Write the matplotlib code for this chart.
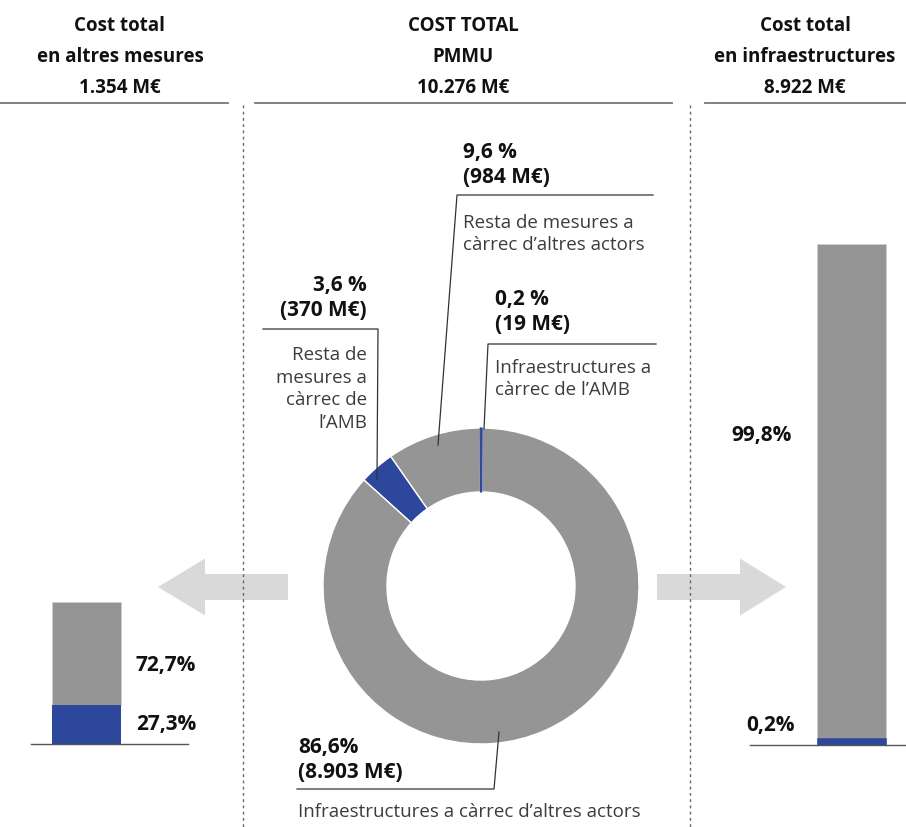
import matplotlib
matplotlib.use("Agg")
import matplotlib.pyplot as plt
from matplotlib.patches import FancyArrow

plt.rcParams['font.family'] = ['Open Sans', 'DejaVu Sans']

GRIS = '#959595'
BLAU = '#2c479b'
GRIS_FLETXA = '#d9d9d9'
LINIA = '#555555'

# dades del pastís (ordre antihorari des de dalt)
segments = ['Infraestructures AMB', 'Resta mesures altres actors', 'Resta mesures AMB', 'Infraestructures altres actors']
percentatges = [0.2, 9.6, 3.6, 86.6]
colors_pastis = [BLAU, GRIS, BLAU, GRIS]

# barres laterals
altres_mesures = [27.3, 72.7]     # AMB, altres actors
infraestructures = [0.2, 99.8]    # AMB, altres actors

capcaleres = [
    ("Cost total\nen altres mesures\n1.354 M€", 120),
    ("COST TOTAL\nPMMU\n10.276 M€", 463),
    ("Cost total\nen infraestructures\n8.922 M€", 805),
]

W, H = 906, 828
fig = plt.figure(figsize=(W / 100, H / 100), dpi=100)


def eixos_px(x0, y0, x1, y1):
    # crea uns eixos a partir de coordenades en píxels (origen a dalt a l'esquerra)
    return fig.add_axes([x0 / W, 1 - y1 / H, (x1 - x0) / W, (y1 - y0) / H])


# --- pastís central ---
ax_p = eixos_px(323, 429, 639, 745)
wedges, _ = ax_p.pie(percentatges, colors=colors_pastis, startangle=89.6, counterclock=True,
                     radius=1, wedgeprops=dict(width=0.405, edgecolor='white', linewidth=1.0))
# el segment del 0,2 % és massa estret: se li dona un contorn del mateix blau
wedges[0].set_edgecolor(BLAU)
wedges[0].set_linewidth(0.9)
wedges[0].set_zorder(3)
ax_p.set_xlim(-1, 1)
ax_p.set_ylim(-1, 1)
ax_p.set_aspect('auto')
ax_p.axis('off')


# --- barres ---
def barra(x0, y0, x1, y1, bx0, bx1, valors, gruix_min=0):
    ax = eixos_px(x0, y0, x1, y1)
    amp = bx1 - bx0
    centre = (bx0 + bx1) / 2 - x0
    ax.set_xlim(-centre / amp, (x1 - x0 - centre) / amp)
    # amb un contorn gruixut el valor petit continua sent visible
    gruix_px = gruix_min * 100 / 72
    ax.bar(0, valors[0], width=1 - gruix_px / amp, color=BLAU, edgecolor=BLAU,
           linewidth=gruix_min, joinstyle='miter', zorder=3)
    ax.bar(0, valors[1], bottom=valors[0], width=1, color=GRIS, edgecolor='#d0d0d0',
           linewidth=0.4, zorder=2)
    ax.set_ylim(0, sum(valors))
    for s in ['top', 'left', 'right']:
        ax.spines[s].set_visible(False)
    ax.spines['bottom'].set_color(LINIA)
    ax.spines['bottom'].set_linewidth(1)
    ax.spines['bottom'].set_zorder(4)
    ax.set_xticks([])
    ax.set_yticks([])
    ax.patch.set_alpha(0)
    return ax


barra(31, 603, 188, 745, 52, 121, altres_mesures)
barra(750, 245, 906, 746, 817, 886, infraestructures, gruix_min=9)

# --- capa de textos, línies i fletxes ---
ov = fig.add_axes([0, 0, 1, 1], zorder=5)
ov.set_xlim(0, W)
ov.set_ylim(H, 0)
ov.axis('off')
ov.patch.set_alpha(0)

for txt, x in capcaleres:
    ov.text(x, 57, txt, ha='center', va='center', fontsize=13.5, fontweight='bold',
            linespacing=1.75, color='#111111')

for x0, x1 in [(0, 228), (255, 672), (705, 906)]:
    ov.plot([x0, x1], [104, 104], color='#777777', lw=1.3)

for x in [243, 690]:
    ov.plot([x, x], [106, 828], color='#666666', lw=1, ls=(0, (2, 2.5)))

# fletxes
ov.add_patch(FancyArrow(288, 588, -130, 0, width=26, head_width=57, head_length=47,
                        length_includes_head=True, color=GRIS_FLETXA, lw=0))
ov.add_patch(FancyArrow(657, 588, 129, 0, width=26, head_width=57, head_length=46,
                        length_includes_head=True, color=GRIS_FLETXA, lw=0))

neg = dict(fontsize=15, fontweight='bold', color='#111111', linespacing=1.2)
fi = dict(fontsize=13.5, fontweight='normal', color='#3c3c3c', linespacing=1.35)
ll = dict(color='#333333', lw=0.9)

# 9,6 %
ov.text(463, 165, "9,6 %\n(984 M€)", ha='left', va='center', **neg)
ov.plot([653, 457, 438], [196, 196, 446], **ll)
ov.text(463, 234, "Resta de mesures a\ncàrrec d’altres actors", ha='left', va='center', **fi)

# 3,6 %
ov.text(367, 298, "3,6 %\n(370 M€)", ha='right', va='center', **neg)
ov.plot([263, 378, 377], [330, 330, 480], **ll)
ov.text(367, 389, "Resta de\nmesures a\ncàrrec de\nl’AMB", ha='right', va='center', **fi)

# 0,2 %
ov.text(495, 312, "0,2 %\n(19 M€)", ha='left', va='center', **neg)
ov.plot([656, 488, 484], [345, 345, 430], **ll)
ov.text(495, 379, "Infraestructures a\ncàrrec de l’AMB", ha='left', va='center', **fi)

# 86,6 %
ov.text(298, 760, "86,6%\n(8.903 M€)", ha='left', va='center', **neg)
ov.plot([297, 494, 499], [790, 790, 733], **ll)
ov.text(298, 812, "Infraestructures a càrrec d’altres actors", ha='left', va='center', **fi)

# etiquetes de les barres
ov.text(136, 666, "72,7%", ha='left', va='center', **neg)
ov.text(136, 725, "27,3%", ha='left', va='center', **neg)
ov.text(792, 436, "99,8%", ha='right', va='center', **neg)
ov.text(795, 726, "0,2%", ha='right', va='center', **neg)

fig.savefig("out.png", dpi=100, facecolor='white')
